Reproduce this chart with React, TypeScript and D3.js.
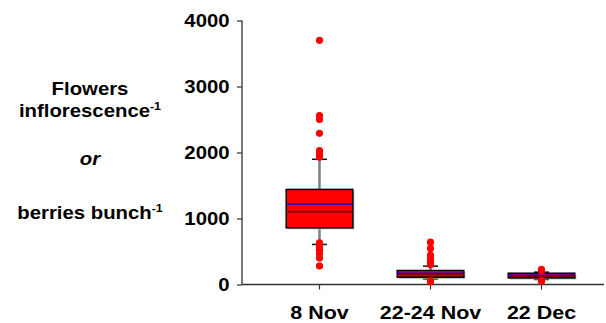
import React, { useRef, useEffect } from 'react';
import * as d3 from 'd3';

// box statistics
const categories = ['8 Nov', '22-24 Nov', '22 Dec'];
const q1 = [859, 111, 100];
const median = [1102, 150, 128];
const q3 = [1441, 212, 171];
const mean = [1218, 170, 140];
const whiskerLow = [607, 85, 76];
const whiskerHigh = [1897, 278, 187];
const outliers = [
  [3700, 2560, 2500, 2290, 2030, 1990, 1960, 1930, 631, 600, 560, 520, 470, 403, 282],
  [642, 546, 445, 384, 350, 320, 300, 55, 40],
  [228, 205, 60, 50],
];
const yTicks = [0, 1000, 2000, 3000, 4000];

const W = 606;
const H = 323;
const STRETCH = 1.13;

export default function App() {
  const ref = useRef<SVGSVGElement>(null);

  useEffect(() => {
    const svg = d3.select(ref.current);
    svg.selectAll('*').remove();

    const y = d3.scaleLinear().domain([0, 4000]).range([284.5, 20.5]);
    const x = d3.scaleBand().domain(categories).range([264, 597]).paddingInner(0.4).paddingOuter(0.2);
    const cx = (c: string) => (x(c) as number) + x.bandwidth() / 2;

    // y axis
    const yAxis = svg.append('g')
      .attr('transform', 'translate(242,0)')
      .call(d3.axisLeft(y).tickValues(yTicks).tickSize(5).tickPadding(6).tickFormat(d3.format('d')));
    yAxis.select('.domain').attr('stroke', '#333').attr('stroke-width', 1.3).attr('d', 'M0,20.5V284.5');
    yAxis.selectAll('.tick line').attr('stroke', '#333').attr('stroke-width', 1.2);
    yAxis.selectAll('.tick text')
      .attr('font-family', 'Liberation Sans, Arial, sans-serif')
      .attr('font-weight', 'bold')
      .attr('font-size', 18)
      .attr('fill', '#000')
      .attr('transform', `scale(${STRETCH},1)`);

    // x axis
    const xAxis = svg.append('g')
      .attr('transform', 'translate(0,284.5)')
      .call(d3.axisBottom(x).tickSize(5).tickPadding(16));
    xAxis.select('.domain').attr('stroke', '#333').attr('stroke-width', 1.3).attr('d', 'M242,0H604');
    xAxis.selectAll('.tick line').attr('stroke', '#333').attr('stroke-width', 1.2);
    xAxis.selectAll('.tick text')
      .attr('font-family', 'Liberation Sans, Arial, sans-serif')
      .attr('font-weight', 'bold')
      .attr('font-size', 19)
      .attr('fill', '#000')
      .attr('transform', `scale(${STRETCH},1)`);

    // boxes
    const boxes = svg.append('g')
      .selectAll('g')
      .data(categories.map((c, i) => ({ c, i })))
      .enter()
      .append('g');

    boxes.append('line')
      .attr('x1', d => cx(d.c)).attr('x2', d => cx(d.c))
      .attr('y1', d => y(whiskerLow[d.i])).attr('y2', d => y(whiskerHigh[d.i]))
      .attr('stroke', '#808080').attr('stroke-width', 2.5);

    [whiskerLow, whiskerHigh].forEach(arr => {
      boxes.append('line')
        .attr('x1', d => cx(d.c) - 7.5).attr('x2', d => cx(d.c) + 7.5)
        .attr('y1', d => y(arr[d.i])).attr('y2', d => y(arr[d.i]))
        .attr('stroke', '#111').attr('stroke-width', 1.5);
    });

    // shadow
    boxes.append('rect')
      .attr('x', d => x(d.c) as number + 1.5)
      .attr('y', d => y(q3[d.i]) + 1.5)
      .attr('width', x.bandwidth())
      .attr('height', d => y(q1[d.i]) - y(q3[d.i]))
      .attr('fill', '#b0b0b0');

    boxes.append('rect')
      .attr('x', d => x(d.c) as number)
      .attr('y', d => y(q3[d.i]))
      .attr('width', x.bandwidth())
      .attr('height', d => y(q1[d.i]) - y(q3[d.i]))
      .attr('fill', '#ff0000')
      .attr('stroke', '#000')
      .attr('stroke-width', 1.5);

    boxes.append('line')
      .attr('x1', d => x(d.c) as number).attr('x2', d => (x(d.c) as number) + x.bandwidth())
      .attr('y1', d => y(median[d.i])).attr('y2', d => y(median[d.i]))
      .attr('stroke', '#8b0000').attr('stroke-width', 2);

    boxes.append('line')
      .attr('x1', d => x(d.c) as number).attr('x2', d => (x(d.c) as number) + x.bandwidth())
      .attr('y1', d => y(mean[d.i])).attr('y2', d => y(mean[d.i]))
      .attr('stroke', '#0000ff').attr('stroke-width', 1.5);

    boxes.selectAll('circle')
      .data(d => outliers[d.i].map(v => ({ c: d.c, v })))
      .enter()
      .append('circle')
      .attr('cx', d => cx(d.c))
      .attr('cy', d => y(d.v))
      .attr('r', 3.6)
      .attr('fill', '#ff0000');

    // y label
    const font = 'Liberation Sans, Arial, sans-serif';
    const lab = (ty: number) =>
      svg.append('g').attr('transform', `translate(90,${ty}) scale(${STRETCH},1)`)
        .append('text')
        .attr('text-anchor', 'middle')
        .attr('font-family', font)
        .attr('font-weight', 'bold')
        .attr('font-size', 18)
        .attr('fill', '#000');

    lab(95).text('Flowers');
    const l2 = lab(117);
    l2.append('tspan').text('inflorescence');
    l2.append('tspan').attr('font-size', 11).attr('dy', -7).text('-1');
    lab(165).attr('font-style', 'italic').text('or');
    const l4 = lab(219);
    l4.append('tspan').text('berries bunch');
    l4.append('tspan').attr('font-size', 11).attr('dy', -7).text('-1');
  }, []);

  return (
    <svg
      ref={ref}
      width={W}
      height={H}
      style={{ position: 'absolute', left: 0, top: 0, background: '#fff' }}
    />
  );
}
